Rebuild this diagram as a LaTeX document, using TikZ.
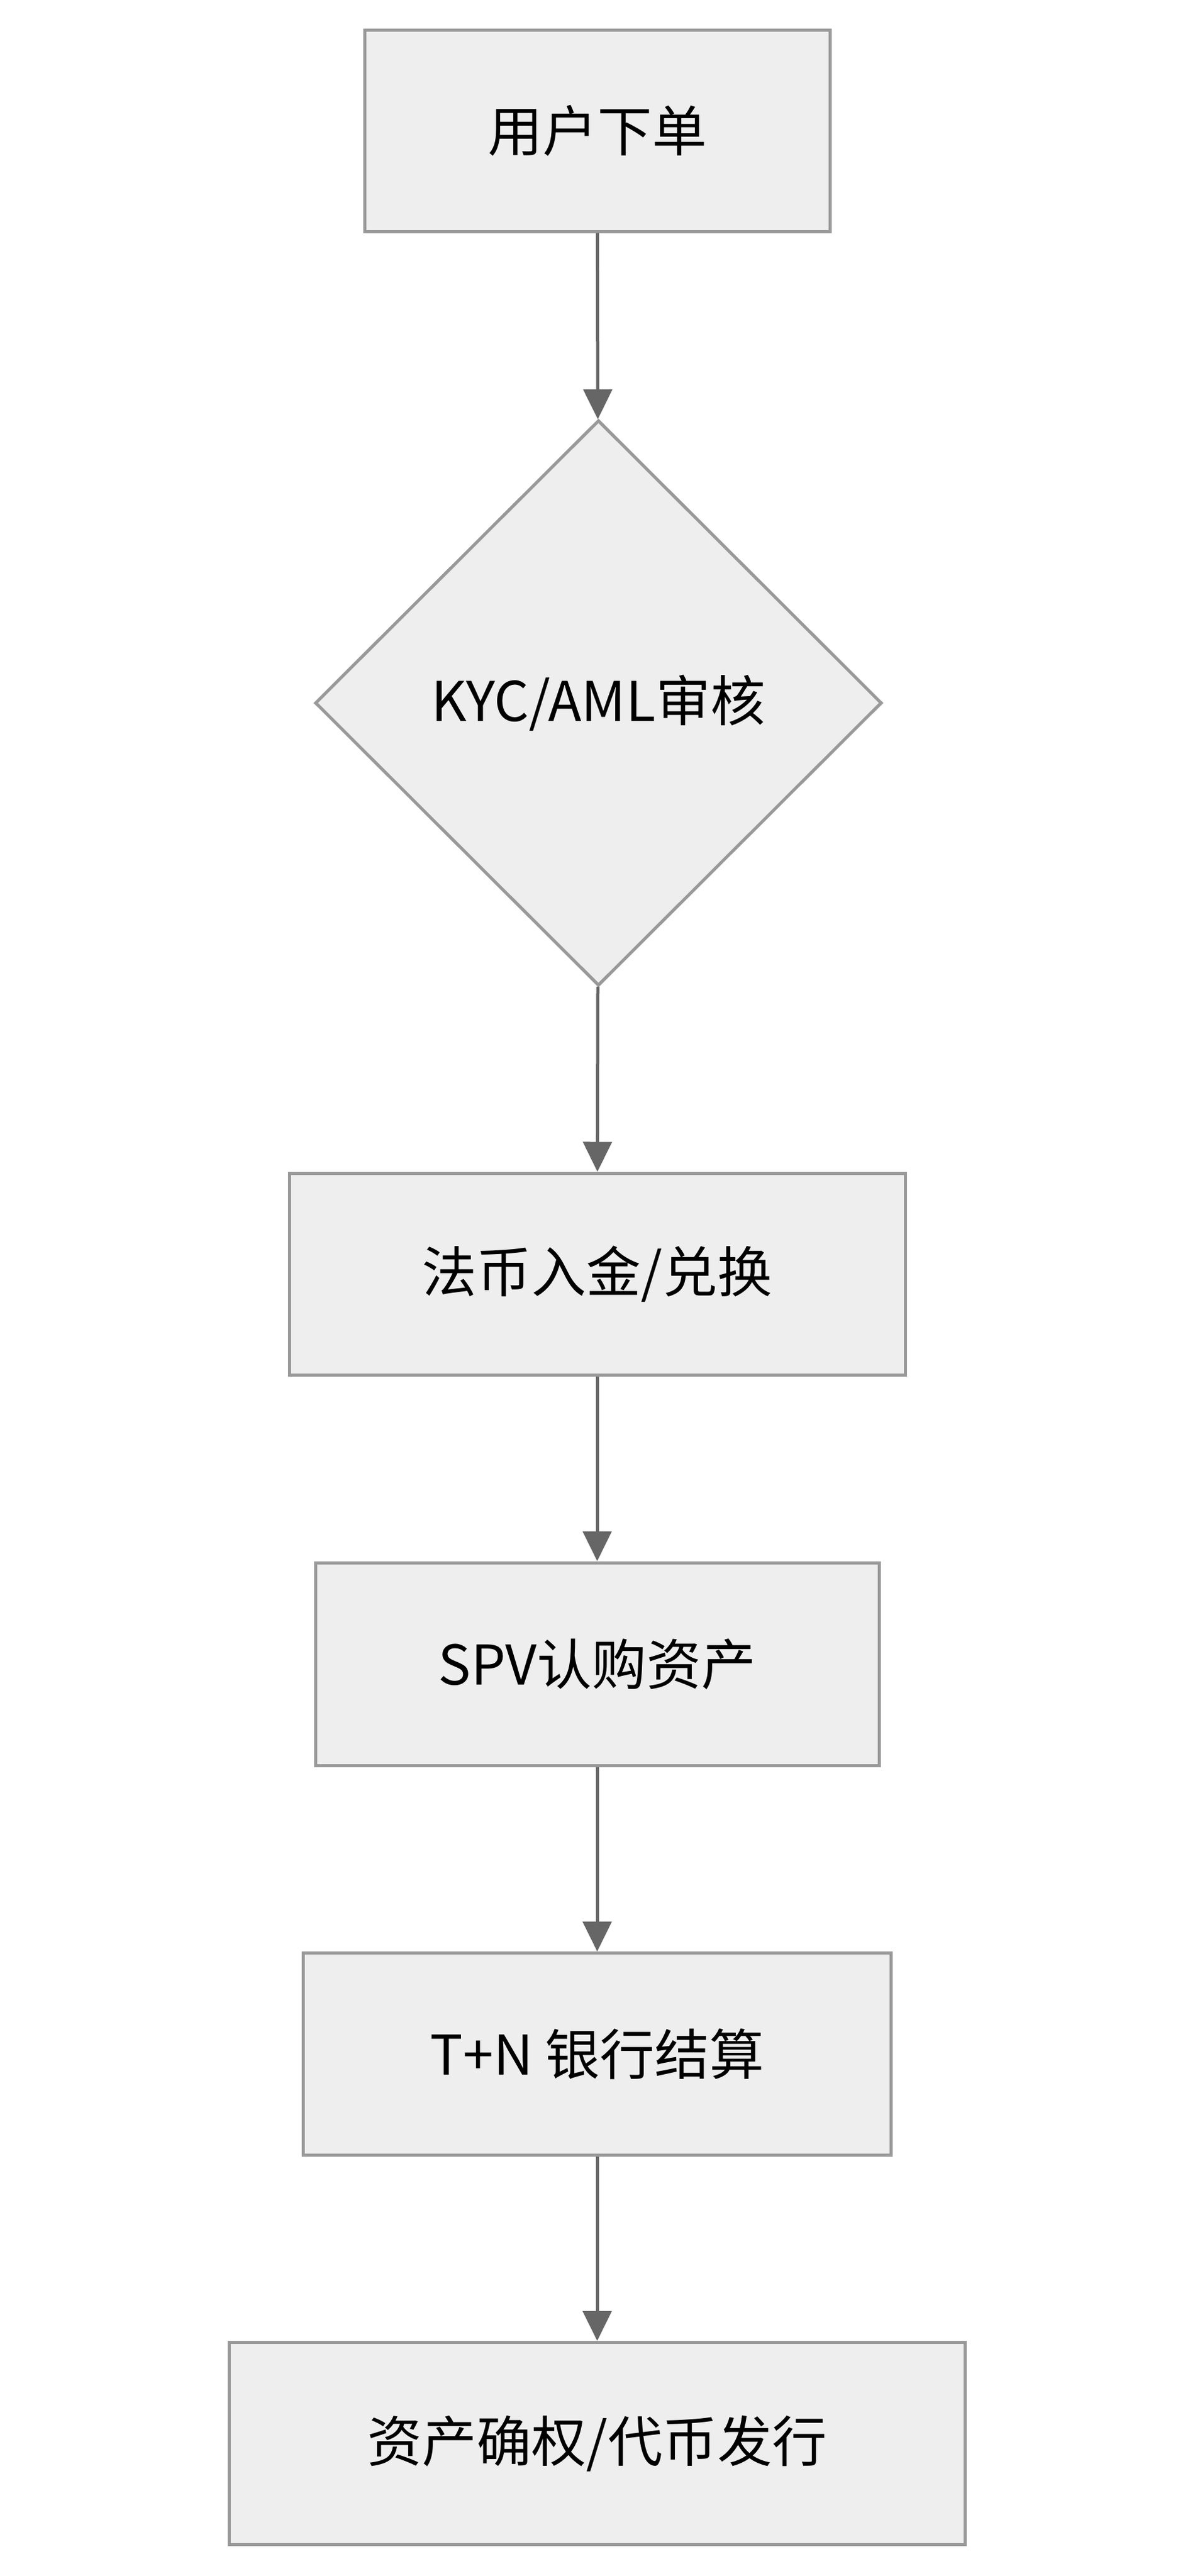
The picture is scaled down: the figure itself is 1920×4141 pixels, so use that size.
\documentclass[tikz,border=0pt]{standalone}
\usepackage{fontspec}
\setmainfont{Noto Sans CJK SC}
\usetikzlibrary{shapes.geometric,arrows.meta}
\definecolor{boxfill}{HTML}{EEEEEE}
\definecolor{boxline}{HTML}{999999}
\definecolor{arr}{HTML}{666666}
\begin{document}
\begin{tikzpicture}[x=1pt,y=-1pt,
  box/.style={draw=boxline,fill=boxfill,line width=5pt,inner sep=0pt,font=\fontsize{88}{100}\selectfont},
  dia/.style={box,diamond,aspect=1},
  conn/.style={draw=arr,line width=5pt,-{Triangle[length=48pt,width=46pt]}}]
\useasboundingbox (0,0) rectangle (1920,4141);
\node[box,minimum width=748pt,minimum height=324pt] (a) at (960,210) {用户下单};
\node[dia,minimum width=911pt,minimum height=909pt] (b) at (962,1130) {KYC/AML审核};
\node[box,minimum width=990pt,minimum height=324pt] (c) at (960,2048) {法币入金/兑换};
\node[box,minimum width=906pt,minimum height=326pt] (d) at (960,2675) {SPV认购资产};
\node[box,minimum width=945pt,minimum height=325pt] (e) at (960,3302) {T+N 银行结算};
\node[box,minimum width=1183pt,minimum height=325pt] (f) at (960,3928) {资产确权/代币发行};
\draw[conn] (a) -- (b);
\draw[conn] (b) -- (c);
\draw[conn] (c) -- (d);
\draw[conn] (d) -- (e);
\draw[conn] (e) -- (f);
\end{tikzpicture}
\end{document}
